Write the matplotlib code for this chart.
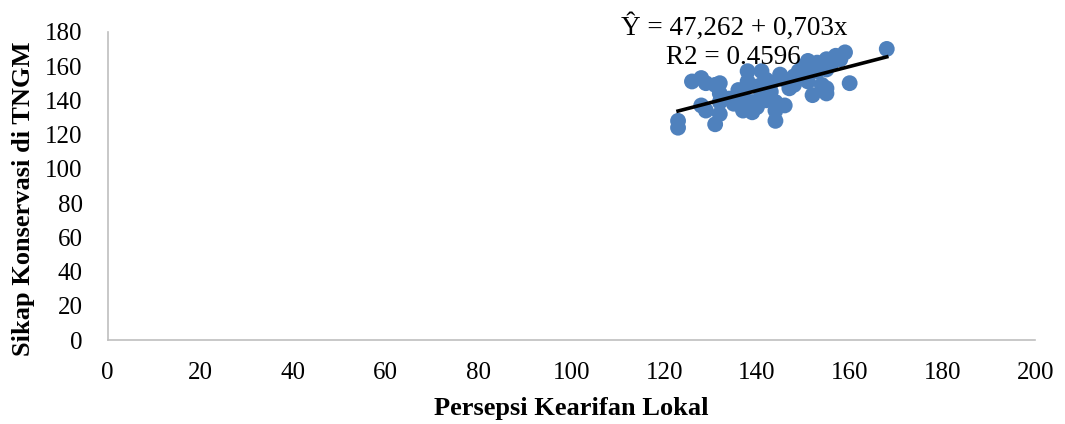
import matplotlib
matplotlib.use("Agg")
import matplotlib.pyplot as plt
import numpy as np

# ---------------------- DATA ----------------------
persepsi = [123, 123, 126, 128, 129, 128, 129, 131, 131, 132, 132, 132, 132,
            134, 135, 136, 136, 137, 137, 138, 138, 139, 139, 140, 141, 141,
            142, 142, 143, 144, 144, 144, 145, 145, 146, 147, 148, 148, 149,
            150, 151, 151, 152, 152, 153, 154, 154, 155, 155, 155, 156, 157,
            158, 159, 160, 168, 140, 143, 146, 150, 153, 155, 137, 141, 147]
sikap = [128, 124, 151, 153, 150, 137, 134, 126, 149, 150, 144, 139, 132,
         141, 138, 146, 139, 134, 145, 157, 151, 139, 133, 136, 157, 149,
         152, 140, 145, 139, 134, 128, 153, 155, 137, 147, 149, 154, 157,
         160, 163, 151, 143, 158, 157, 149, 160, 164, 147, 144, 161, 166,
         164, 168, 150, 170, 148, 150, 152, 155, 162, 158, 142, 144, 151]

intercept = 47.262
slope = 0.703
r2 = 0.4596

xticks = [0, 20, 40, 60, 80, 100, 120, 140, 160, 180, 200]
yticks = [0, 20, 40, 60, 80, 100, 120, 140, 160, 180]

# ---------------------- GRAFIK ----------------------
plt.rcParams['font.family'] = ['Liberation Serif', 'DejaVu Serif']

fig = plt.figure(figsize=(10.65, 4.24), dpi=100)
ax = fig.add_axes([0.101, 0.198, 0.871, 0.727])

ax.scatter(persepsi, sikap, s=130, color="#4F81BD", edgecolors="none", zorder=2)

xs = np.array([min(persepsi), max(persepsi)])
ax.plot(xs, intercept + slope * xs, color="black", linewidth=2.6, zorder=3)

ax.set_xlim(0, 200)
ax.set_ylim(0, 180)
ax.set_xticks(xticks)
ax.set_yticks(yticks)
ax.tick_params(length=0, labelsize=18)
ax.tick_params(axis="x", pad=16)
ax.tick_params(axis="y", pad=18)

for side in ["top", "right"]:
    ax.spines[side].set_visible(False)
for side in ["left", "bottom"]:
    ax.spines[side].set_color("#bfbfbf")
    ax.spines[side].set_linewidth(1.2)

ax.set_xlabel("Persepsi Kearifan Lokal", fontsize=19, fontweight="bold", labelpad=9)
ax.set_ylabel("Sikap Konservasi di TNGM", fontsize=19, fontweight="bold")
ax.yaxis.set_label_coords(-0.078, 0.46)

eq = "Ŷ = {:,.3f} + {:,.3f}x".format(intercept, slope).replace(".", ",")
fig.text(734 / 1065, 1 - 27 / 424, eq, fontsize=19.5, ha="center", va="center")
fig.text(733 / 1065, 1 - 57 / 424, "R2 = {}".format(r2), fontsize=19.5,
         ha="center", va="center")

plt.savefig("out.png", dpi=100)
